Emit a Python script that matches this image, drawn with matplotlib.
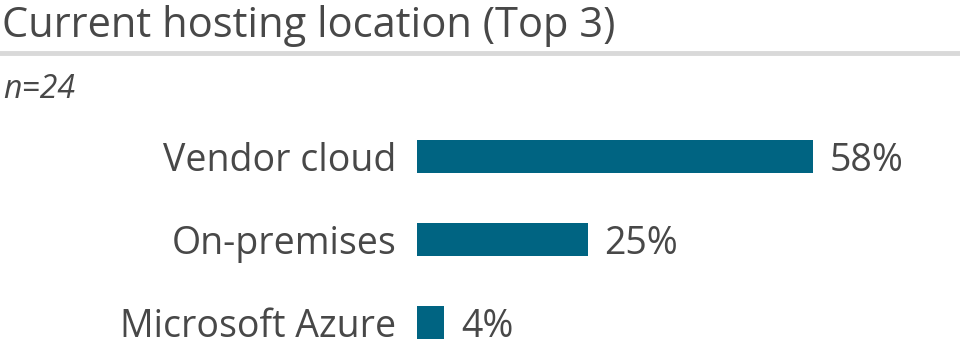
import matplotlib
matplotlib.use("Agg")
import matplotlib.pyplot as plt
from matplotlib.lines import Line2D

categories = ["Vendor cloud", "On-premises", "Microsoft Azure"]
values = [58, 25, 4]
value_labels = ["58%", "25%", "4%"]
title = "Current hosting location (Top 3)"
subtitle = "n=24"

W, H = 960, 347
TEXT = "#484848"
BAR = "#006482"
plt.rcParams['font.family'] = ['Open Sans', 'DejaVu Sans']

fig = plt.figure(figsize=(W/100, H/100), dpi=100)

# axes: left at 417px, 6.83 px per percent
left_px = 417
px_per = 6.83
top_px = 115
ax = fig.add_axes([left_px/W, 0, (W-left_px)/W, (H-top_px)/H])
ax.set_xlim(0, (W-left_px)/px_per)
unit_px = 83
ax.set_ylim(-0.5 + (H-top_px)/unit_px, -0.5)
ypos = list(range(len(categories)))
ax.barh(ypos, values, height=33/unit_px, color=BAR)
ax.set_yticks(ypos)
ax.set_yticklabels(categories, fontsize=27, color=TEXT)
ax.tick_params(axis='y', length=0, pad=15)
ax.set_xticks([])
for s in ax.spines.values():
    s.set_visible(False)
for y, v, lab in zip(ypos, values, value_labels):
    ax.annotate(lab, (v, y), xytext=(12, 0), textcoords='offset points',
                va='center_baseline', ha='left', fontsize=27, color=TEXT)

fig.text(2/W, 1 - 37/H, title, fontsize=30, color=TEXT, ha='left', va='baseline')
fig.add_artist(Line2D([0, 1], [1 - 52.5/H]*2, color="#d9d9d9", lw=3.5, transform=fig.transFigure))
fig.text(3/W, 1 - 98/H, subtitle, fontsize=23, color=TEXT, ha='left', va='baseline', style='italic')

fig.savefig("out.png", dpi=100)
